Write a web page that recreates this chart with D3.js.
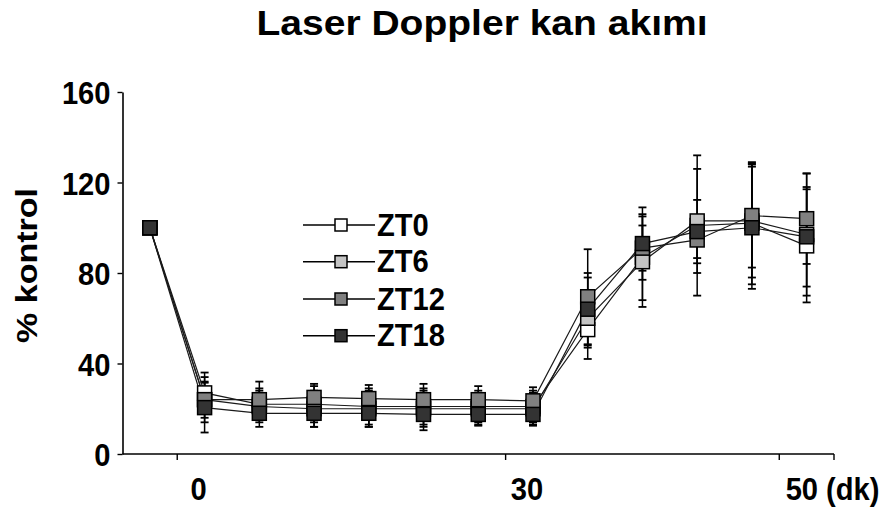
<!DOCTYPE html>
<html><head><meta charset="utf-8">
<script src="https://cdn.jsdelivr.net/npm/d3@7/dist/d3.min.js"></script>
<style>body{margin:0;background:#fff}svg{display:block}text{font-family:"Liberation Sans",Arial,sans-serif;font-weight:bold;fill:#000}</style>
</head><body><svg id="c" width="893" height="513"></svg>
<script>
// ---- data ----
const categories = [0,1,2,3,4,5,6,7,8,9,10,11,12];
const seriesNames = ["ZT0","ZT6","ZT12","ZT18"];
const zt0  = [100, 27, 22, 22, 21, 21, 21, 21, 55, 87, 101, 102, 92];
const zt6  = [100, 24, 21, 20, 20, 20, 20, 20, 60, 85, 103, 103, 97];
const zt12 = [100, 24, 24, 25, 24.5, 24, 24, 23.5, 69.5, 91, 94.6, 105.4, 104];
const zt18 = [100, 20.5, 18, 18, 18, 17.5, 17.5, 17.5, 64, 93, 98.3, 100, 96];
const err0  = [0, 9, 7, 8, 8, 8, 7, 7, 8, 19, 31, 27, 25];
const err6  = [0, 10, 7, 8, 8, 8, 7, 7, 18, 20, 23, 25, 27];
const err12 = [0, 8, 8, 6, 6, 7, 6, 6, 21, 10, 8, 23, 20];
const err18 = [0, 11, 6, 6, 6, 7, 5, 5, 16, 16, 14, 27, 22];
const fills = ["#ffffff","#c4c4c4","#808080","#333333"];
const yTicks = [0,40,80,120,160];
const xTickBoundaries = [1,7,12,13];
const xLabelCats = [1,7,12];
const xLabelTexts = ["0","30","50 (dk)"];
const title = "Laser Doppler kan akımı";
const yTitle = "% kontrol";

const values = [zt0, zt6, zt12, zt18];
const errors = [err0, err6, err12, err18];

// ---- layout ----
const svg = d3.select("#c");
const x = d3.scaleBand().domain(categories).range([122.5, 834]);
const y = d3.scaleLinear().domain([0,160]).range([454, 92]);
const cx = i => x(i) + x.bandwidth()/2;
const M = 14; // marker size
const condense = sel => sel.each(function(){
  const w = this.getComputedTextLength();
  d3.select(this).attr("textLength", w*0.91).attr("lengthAdjust","spacingAndGlyphs");
});

svg.append("text").attr("x", 482).attr("y", 35).attr("text-anchor","middle")
  .attr("font-size", 35).attr("textLength", 451).attr("lengthAdjust","spacingAndGlyphs").text(title);

svg.append("text").attr("transform","translate(37,265.5) rotate(-90)").attr("text-anchor","middle")
  .attr("font-size", 30).attr("textLength", 155).attr("lengthAdjust","spacingAndGlyphs").text(yTitle);

// y axis
const ya = svg.append("g").attr("transform","translate(122.5,0)")
  .call(d3.axisLeft(y).tickValues(yTicks).tickSize(5).tickPadding(7).tickSizeOuter(0));
ya.select(".domain").attr("stroke","#000").attr("stroke-width",1.6);
ya.selectAll(".tick line").attr("stroke","#000").attr("stroke-width",1.4);
ya.selectAll(".tick text").attr("font-size",32).attr("font-family","Liberation Sans, Arial, sans-serif").attr("font-weight","bold").attr("dy","0.36em").call(condense);

// x axis
const xa = svg.append("g");
xa.append("line").attr("x1", x.range()[0]).attr("x2", x.range()[1]).attr("y1", y(0)).attr("y2", y(0))
  .attr("stroke","#000").attr("stroke-width",1.6);
xa.selectAll("line.t").data(xTickBoundaries).join("line").attr("class","t")
  .attr("x1", d => x.range()[0] + d*x.step()).attr("x2", d => x.range()[0] + d*x.step())
  .attr("y1", y(0)).attr("y2", y(0)+6).attr("stroke","#000").attr("stroke-width",1.4);
xa.selectAll("text").data(xLabelCats).join("text")
  .attr("x", (d,i) => i === 2 ? cx(d) - 21 : cx(d) - 6)
  .attr("y", 500).attr("font-size", 32)
  .attr("text-anchor", (d,i) => i === 2 ? "start" : "middle")
  .text((d,i) => xLabelTexts[i]).call(condense);

// error bars
values.forEach((vals, s) => {
  const g = svg.append("g");
  vals.forEach((v, i) => {
    const e = errors[s][i];
    if (!e) return;
    g.append("line").attr("x1", cx(i)).attr("x2", cx(i)).attr("y1", y(v+e)).attr("y2", y(v-e))
      .attr("stroke","#000").attr("stroke-width",1.5);
    [v+e, v-e].forEach(t => g.append("line").attr("x1", cx(i)-4).attr("x2", cx(i)+4)
      .attr("y1", y(t)).attr("y2", y(t)).attr("stroke","#000").attr("stroke-width",1.8));
  });
});

// lines
const line = d3.line().x((d,i) => cx(i)).y(d => y(d));
values.forEach(vals => {
  svg.append("path").attr("d", line(vals)).attr("fill","none").attr("stroke","#1a1a1a").attr("stroke-width",1.2);
});

// markers
values.forEach((vals, s) => {
  svg.append("g").selectAll("rect").data(vals).join("rect")
    .attr("x", (d,i) => cx(i) - M/2).attr("y", d => y(d) - M/2)
    .attr("width", M).attr("height", M).attr("fill", fills[s]).attr("stroke","#000").attr("stroke-width",1.5);
});

// legend
const lg = svg.append("g");
const legY = [225, 261.7, 299, 335.7];
seriesNames.forEach((n, s) => {
  lg.append("line").attr("x1", 303).attr("x2", 375).attr("y1", legY[s]).attr("y2", legY[s]).attr("stroke","#000").attr("stroke-width",1.5);
  lg.append("rect").attr("x", 341-6).attr("y", legY[s]-6).attr("width", 12).attr("height", 12)
    .attr("fill", fills[s]).attr("stroke","#000").attr("stroke-width",1.5);
  lg.append("text").attr("x", 377).attr("y", legY[s]+10.5).attr("font-size", 32).text(n).call(condense);
});
</script></body></html>
